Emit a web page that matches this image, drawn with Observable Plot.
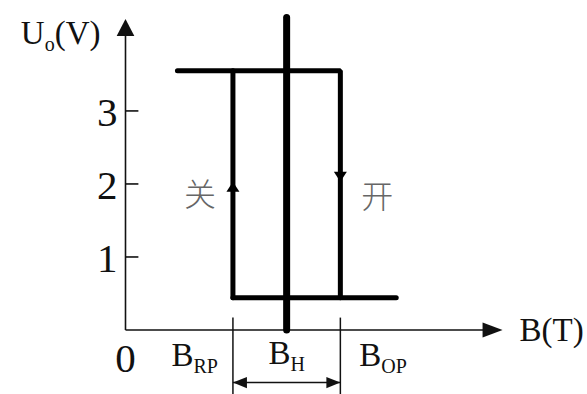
<!DOCTYPE html>
<html><head><meta charset="utf-8">
<script src="https://cdn.jsdelivr.net/npm/d3@7"></script>
<script src="https://cdn.jsdelivr.net/npm/@observablehq/plot@0.6"></script>
<style>html,body{margin:0;padding:0;background:#fff}</style>
</head><body><div id="chart"></div>
<script>
// ---- data ----
const yTicks = [1, 2, 3];
const yTickLabels = ["1", "2", "3"];
const highLevel = 3.55;       // Uo high level (V)
const lowLevel = 0.44;        // Uo low level (V)
const bRP = 3.0;              // release point
const bOP = 6.0;              // operate point
const bH = 4.5;               // centre (thick line)
const upperStart = 1.45;      // left end of the high level line
const lowerEnd = 7.56;        // right end of the low level line
const xAxisEnd = 10.53;
const yAxisEnd = 4.26;
const centerTop = 4.28;
const arrowMid = 2.03;        // tip of the direction arrows
const dimY = -0.72;           // dimension arrow B_H
const dimTop = 0.17, dimBottom = -0.95;
const xLabels = ["B_RP", "B_H", "B_OP"];
const xLabelPos = [bRP, bH, bOP];
const switchLabels = ["关", "开"];
const axisTitleX = "B(T)";
const axisTitleY = "U_o(V)";
const originLabel = "0";

// arrowhead symbol: tip at the origin, pointing along (dx,dy) in screen space
function head(dx, dy, ratio) {
  return {draw(ctx, size) {
    const L = Math.sqrt(size / Math.PI), w = L * ratio;
    const bx = -dx * L, by = -dy * L, px = -dy * w, py = dx * w;
    ctx.moveTo(0, 0); ctx.lineTo(bx + px, by + py); ctx.lineTo(bx - px, by - py); ctx.closePath();
  }};
}

const ink = "#111";
const serif = "Liberation Serif, Times New Roman, serif";
const numSize = 41, labSize = 33;

const chart = Plot.plot({
  width: 587, height: 394, margin: 0,
  x: {domain: [0, 10.5], range: [125, 501], axis: null},
  y: {domain: [0, 4.3], range: [329.5, 15.5], axis: null},
  style: {background: "#fff", fontFamily: serif},
  marks: [
    // axes
    Plot.link([{x1: 0, y1: 0, x2: 0, y2: yAxisEnd - 0.05}], {x1: "x1", y1: "y1", x2: "x2", y2: "y2", stroke: ink, strokeWidth: 1.6}),
    Plot.link([{x1: 0, y1: 0, x2: xAxisEnd - 0.1, y2: 0}], {x1: "x1", y1: "y1", x2: "x2", y2: "y2", stroke: ink, strokeWidth: 1.6}),
    Plot.dot([{x: 0, y: yAxisEnd}], {x: "x", y: "y", r: 17, symbol: head(0, -1, 0.52), fill: ink, stroke: "none"}),
    Plot.dot([{x: xAxisEnd, y: 0}], {x: "x", y: "y", r: 20, symbol: head(1, 0, 0.38), fill: ink, stroke: "none"}),
    // y ticks
    Plot.link(yTicks, {x1: 0, x2: 0.36, y1: d => d, y2: d => d, stroke: ink, strokeWidth: 1.6}),
    Plot.text(yTicks, {x: 0, y: d => d, text: (d, i) => yTickLabels[i], textAnchor: "end", dx: -8, dy: 2, fontSize: numSize, fill: ink, fontFamily: serif}),
    Plot.text([originLabel], {x: 0, y: 0, text: d => d, dy: 28.5, fontSize: numSize, fill: ink, fontFamily: serif}),
    // extension lines and dimension arrow
    Plot.link([bRP, bOP], {x1: d => d, x2: d => d, y1: dimTop, y2: dimBottom, stroke: ink, strokeWidth: 1.5}),
    Plot.link([{a: bRP, b: bOP}], {x1: "a", x2: "b", y1: dimY, y2: dimY, stroke: ink, strokeWidth: 1.5}),
    Plot.dot([bRP], {x: d => d, y: dimY, r: 14, symbol: head(-1, 0, 0.4), fill: ink, stroke: "none"}),
    Plot.dot([bOP], {x: d => d, y: dimY, r: 14, symbol: head(1, 0, 0.4), fill: ink, stroke: "none"}),
    // hysteresis loop
    Plot.line([{x: upperStart, y: highLevel}, {x: bOP, y: highLevel}, {x: bOP, y: lowLevel}], {x: "x", y: "y", stroke: "#000", strokeWidth: 5, strokeLinejoin: "miter", strokeLinecap: "round"}),
    Plot.line([{x: bRP, y: highLevel}, {x: bRP, y: lowLevel}], {x: "x", y: "y", stroke: "#000", strokeWidth: 5, strokeLinecap: "round"}),
    Plot.line([{x: bRP, y: lowLevel}, {x: lowerEnd, y: lowLevel}], {x: "x", y: "y", stroke: "#000", strokeWidth: 5, strokeLinecap: "round"}),
    Plot.link([bH], {x1: d => d, x2: d => d, y1: 0, y2: centerTop, stroke: "#000", strokeWidth: 7, strokeLinecap: "round"}),
    // direction arrows
    Plot.dot([bRP], {x: d => d, y: arrowMid, r: 10, symbol: head(0, -1, 0.65), fill: "#000", stroke: "none"}),
    Plot.dot([bOP], {x: d => d, y: arrowMid, r: 10, symbol: head(0, 1, 0.65), fill: "#000", stroke: "none"}),
    Plot.text([switchLabels[0]], {x: bRP, y: arrowMid, text: d => d, dx: -33, dy: 13.5, fontSize: 32, fill: "#666", fontFamily: "Noto Sans CJK SC", fontWeight: 300}),
    Plot.text([switchLabels[1]], {x: bOP, y: arrowMid, text: d => d, dx: 37, dy: 15.5, fontSize: 32, fill: "#666", fontFamily: "Noto Sans CJK SC", fontWeight: 300}),
    // x labels
    Plot.text([0], {x: xLabelPos[0], y: 0, text: () => xLabels[0], textAnchor: "end", dx: -15, dy: 25, fontSize: labSize, fill: ink, fontFamily: serif}),
    Plot.text([1], {x: xLabelPos[1], y: 0, text: () => xLabels[1], textAnchor: "middle", dy: 23.5, fontSize: labSize, fill: ink, fontFamily: serif}),
    Plot.text([2], {x: xLabelPos[2], y: 0, text: () => xLabels[2], textAnchor: "start", dx: 19, dy: 25, fontSize: labSize, fill: ink, fontFamily: serif}),
    // axis titles
    Plot.text([axisTitleX], {x: xAxisEnd, y: 0, text: d => d, textAnchor: "start", dx: 17, dy: 0.5, fontSize: labSize, fill: ink, fontFamily: serif}),
    Plot.text([axisTitleY], {x: 0, y: yAxisEnd, text: d => d, textAnchor: "end", dx: -25, dy: 15, fontSize: labSize, fill: ink, fontFamily: serif})
  ]
});

// subscripts: "B_RP" -> B + subscript RP
d3.select(chart).selectAll("text").each(function () {
  const s = this.textContent;
  const m = s.match(/^([^_]*)_([A-Za-z]+)(.*)$/);
  if (!m) return;
  const t = d3.select(this);
  t.text(null);
  t.append("tspan").text(m[1]);
  t.append("tspan").attr("font-size", 20).attr("dy", 7).text(m[2]);
  if (m[3]) t.append("tspan").attr("dy", -7).text(m[3]);
});

document.getElementById("chart").appendChild(chart);
</script>
</body></html>
